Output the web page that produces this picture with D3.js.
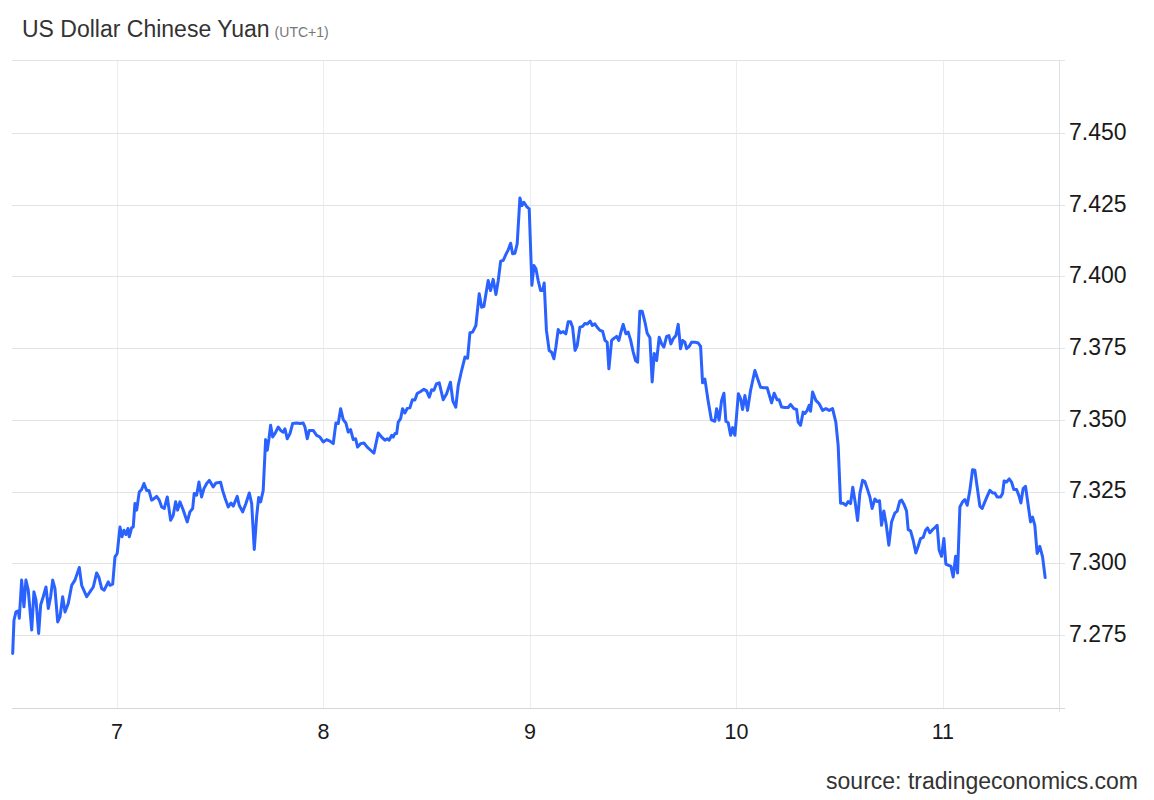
<!DOCTYPE html>
<html>
<head>
<meta charset="utf-8">
<script src="https://cdn.jsdelivr.net/npm/d3@7"></script>
<style>
  html, body { margin: 0; padding: 0; background: #fff; }
  svg { display: block; font-family: "Liberation Sans", Arial, sans-serif; }
</style>
</head>
<body>
<svg id="chart" width="1154" height="800"></svg>
<script>
// ---- data (hours since day 6 00:00, UTC+1) ----
const title = "US Dollar Chinese Yuan";
const subtitle = "(UTC+1)";
const source = "source: tradingeconomics.com";
const dayTicks = [7, 8, 9, 10, 11];
const yTicks = [7.275, 7.300, 7.325, 7.350, 7.375, 7.400, 7.425, 7.450];

const hours = [11.88,12.03,12.26,12.53,12.65,12.92,13.19,13.42,13.69,14.09,
14.35,14.59,14.90,15.13,15.43,15.75,16.02,16.29,16.53,16.79,
17.11,17.38,17.69,17.96,18.34,18.74,19.12,19.62,19.90,20.48,
20.86,21.25,21.64,21.91,22.22,22.52,22.99,23.19,23.50,23.77,
24.03,24.35,24.58,24.81,25.05,25.28,25.43,25.71,25.89,26.09,
26.29,26.59,26.87,27.14,27.45,27.72,28.03,28.30,28.61,28.92,
29.20,29.50,29.85,30.24,30.54,30.82,31.05,31.32,31.71,32.17,
32.48,32.80,32.98,33.26,33.53,33.84,34.11,34.43,34.73,35.19,
35.51,36.05,36.28,36.59,36.94,37.25,37.52,37.98,38.21,38.61,
38.99,39.38,39.66,39.96,40.24,40.47,40.70,41.00,41.28,41.47,
41.67,41.86,42.10,42.36,42.75,43.03,43.33,43.53,43.79,44.11,
44.42,44.89,45.27,45.65,45.85,46.12,46.35,46.81,47.21,47.59,
47.98,48.37,48.76,49.14,49.45,49.72,50.00,50.30,50.61,50.88,
51.16,51.46,51.74,51.97,52.32,52.71,53.09,53.49,53.87,54.37,
54.76,55.15,55.42,55.65,55.93,56.11,56.31,56.51,56.69,56.97,
57.20,57.47,57.74,58.05,58.34,58.63,58.90,59.30,59.68,59.99,
60.30,60.58,60.84,61.13,61.46,61.92,62.32,62.76,63.05,63.38,
63.67,64.06,64.45,64.76,65.03,65.34,65.72,66.11,66.39,66.65,
66.89,67.15,67.43,67.73,68.05,68.32,68.60,68.90,69.21,69.48,
69.76,69.99,70.26,70.52,70.84,71.07,71.30,71.62,71.92,72.23,
72.47,72.70,72.96,73.24,73.48,73.66,73.92,74.24,74.52,74.79,
75.02,75.29,75.57,75.87,76.18,76.45,76.73,76.96,77.25,77.50,
77.81,78.13,78.39,78.66,79.01,79.26,79.55,79.82,80.14,80.45,
80.72,80.98,81.18,81.50,81.80,82.08,82.34,82.58,82.84,83.16,
83.42,83.70,84.01,84.28,84.52,84.78,85.05,85.37,85.63,85.95,
86.21,86.45,86.73,87.03,87.31,87.57,87.89,88.16,88.39,88.66,
88.97,89.24,89.51,89.75,90.01,90.21,90.51,90.79,91.18,91.56,
91.84,92.07,92.34,92.69,93.09,93.50,93.70,93.99,94.28,94.55,
94.78,95.05,95.33,95.56,95.83,96.23,96.49,96.72,96.99,97.30,
97.65,98.15,98.46,98.81,99.20,99.58,100.09,100.39,100.74,100.97,
101.25,101.64,102.02,102.30,102.68,103.00,103.18,103.46,103.76,103.96,
104.23,104.46,104.62,104.86,105.24,105.62,106.02,106.40,106.79,107.18,
107.56,107.83,108.11,108.41,108.73,108.99,109.27,109.53,109.80,110.09,
110.35,110.67,110.93,111.20,111.52,111.78,112.10,112.36,112.64,112.87,
113.14,113.41,113.72,114.04,114.42,114.69,115.00,115.20,115.47,115.78,
115.97,116.25,116.55,116.86,117.13,117.41,117.71,117.99,118.22,118.49,
118.80,119.07,119.34,119.57,119.85,120.12,120.35,120.62,120.93,121.20,
121.48,121.71,121.98,122.29,122.56,122.83,123.14,123.45,123.72,123.99,
124.30,124.57,124.88,125.15,125.46,125.78,126.04,126.31,126.71,126.94,
127.12,127.40,127.71,127.98,128.25,128.57,128.87,129.07,129.33,129.61,
129.92,130.19,130.43,130.69,130.96,131.27,131.59,131.89];

const rates = [7.2685,7.2801,7.2830,7.2834,7.2808,7.2941,7.2848,7.2941,7.2906,7.2767,
7.2900,7.2871,7.2755,7.2854,7.2883,7.2917,7.2842,7.2883,7.2941,7.2912,
7.2795,7.2813,7.2883,7.2830,7.2860,7.2923,7.2941,7.2985,7.2923,7.2883,
7.2900,7.2917,7.2966,7.2950,7.2912,7.2906,7.2935,7.2923,7.2927,7.3022,
7.3034,7.3126,7.3092,7.3115,7.3100,7.3121,7.3092,7.3124,7.3126,7.3208,
7.3185,7.3248,7.3257,7.3278,7.3254,7.3254,7.3220,7.3225,7.3233,7.3220,
7.3196,7.3191,7.3231,7.3150,7.3167,7.3214,7.3185,7.3214,7.3185,7.3144,
7.3179,7.3191,7.3243,7.3237,7.3283,7.3231,7.3260,7.3278,7.3289,7.3266,
7.3280,7.3282,7.3254,7.3225,7.3196,7.3210,7.3199,7.3233,7.3202,7.3179,
7.3208,7.3245,7.3208,7.3048,7.3164,7.3229,7.3214,7.3254,7.3431,7.3394,
7.3434,7.3481,7.3440,7.3452,7.3475,7.3463,7.3457,7.3469,7.3434,7.3452,
7.3487,7.3489,7.3487,7.3489,7.3475,7.3434,7.3463,7.3463,7.3446,7.3440,
7.3423,7.3431,7.3426,7.3417,7.3489,7.3487,7.3539,7.3501,7.3489,7.3457,
7.3466,7.3431,7.3434,7.3405,7.3417,7.3419,7.3405,7.3394,7.3384,7.3454,
7.3440,7.3429,7.3434,7.3429,7.3446,7.3440,7.3452,7.3452,7.3492,7.3504,
7.3539,7.3524,7.3540,7.3542,7.3570,7.3569,7.3592,7.3599,7.3607,7.3601,
7.3579,7.3605,7.3603,7.3625,7.3629,7.3570,7.3591,7.3631,7.3565,7.3544,
7.3620,7.3672,7.3719,7.3715,7.3804,7.3806,7.3829,7.3940,7.3893,7.3895,
7.3940,7.3986,7.3951,7.3990,7.3937,7.3986,7.4053,7.4056,7.4077,7.4093,
7.4116,7.4079,7.4081,7.4114,7.4274,7.4247,7.4259,7.4244,7.4236,7.3969,
7.4038,7.4027,7.3986,7.3951,7.3951,7.3977,7.3812,7.3742,7.3736,7.3713,
7.3754,7.3815,7.3803,7.3808,7.3800,7.3842,7.3842,7.3823,7.3742,7.3759,
7.3823,7.3826,7.3836,7.3834,7.3844,7.3829,7.3835,7.3823,7.3812,7.3809,
7.3777,7.3771,7.3678,7.3777,7.3785,7.3791,7.3777,7.3806,7.3833,7.3800,
7.3806,7.3779,7.3736,7.3707,7.3701,7.3879,7.3879,7.3841,7.3802,7.3786,
7.3632,7.3731,7.3707,7.3788,7.3765,7.3754,7.3791,7.3794,7.3765,7.3783,
7.3794,7.3833,7.3748,7.3777,7.3771,7.3748,7.3756,7.3771,7.3771,7.3768,
7.3756,7.3629,7.3642,7.3571,7.3500,7.3495,7.3539,7.3499,7.3568,7.3593,
7.3495,7.3490,7.3446,7.3473,7.3446,7.3591,7.3574,7.3536,7.3585,7.3533,
7.3603,7.3672,7.3644,7.3614,7.3612,7.3612,7.3559,7.3593,7.3570,7.3570,
7.3545,7.3543,7.3543,7.3554,7.3539,7.3536,7.3492,7.3481,7.3527,7.3522,
7.3533,7.3551,7.3530,7.3597,7.3568,7.3556,7.3533,7.3539,7.3533,7.3539,
7.3492,7.3411,7.3209,7.3209,7.3202,7.3215,7.3208,7.3265,7.3214,7.3149,
7.3243,7.3289,7.3285,7.3261,7.3231,7.3191,7.3224,7.3215,7.3218,7.3132,
7.3182,7.3136,7.3063,7.3144,7.3175,7.3182,7.3217,7.3220,7.3206,7.3182,
7.3117,7.3113,7.3080,7.3036,7.3059,7.3086,7.3090,7.3115,7.3123,7.3106,
7.3117,7.3124,7.3132,7.3045,7.3024,7.3086,7.2997,7.2993,7.2990,7.2952,
7.3024,7.2966,7.3196,7.3214,7.3222,7.3202,7.3254,7.3326,7.3324,7.3266,
7.3199,7.3191,7.3214,7.3233,7.3254,7.3245,7.3245,7.3231,7.3231,7.3243,
7.3287,7.3283,7.3294,7.3283,7.3257,7.3257,7.3233,7.3210,7.3260,7.3268,
7.3202,7.3144,7.3161,7.3132,7.3034,7.3059,7.3022,7.2950];

// ---- layout ----
const W = 1154, H = 800;
const plotLeft = 12, plotRight = 1059, plotTop = 60, plotBottom = 708;

const svg = d3.select("#chart");
svg.append("rect").attr("width", W).attr("height", H).attr("fill", "#fff");

const x = d3.scaleLinear().domain([11.8, 133.5]).range([plotLeft, plotRight]);
const y = d3.scaleLinear().domain([7.2495, 7.4755]).range([plotBottom, plotTop]);

// vertical grid (day boundaries)
svg.append("g").selectAll("line").data(dayTicks).join("line")
  .attr("x1", d => Math.round(x((d - 6) * 24)) + 0.5)
  .attr("x2", d => Math.round(x((d - 6) * 24)) + 0.5)
  .attr("y1", plotTop).attr("y2", plotBottom)
  .attr("stroke", "#e9eef5").attr("stroke-width", 1);

// horizontal grid
svg.append("g").selectAll("line").data(yTicks).join("line")
  .attr("x1", plotLeft).attr("x2", plotRight + 6)
  .attr("y1", d => Math.round(y(d)) + 0.5)
  .attr("y2", d => Math.round(y(d)) + 0.5)
  .attr("stroke", "#e3e3e3").attr("stroke-width", 1);

// top border and bottom axis
svg.append("line").attr("x1", plotLeft).attr("x2", plotRight + 6)
  .attr("y1", plotTop + 0.5).attr("y2", plotTop + 0.5)
  .attr("stroke", "#e3e3e3");
svg.append("line").attr("x1", plotLeft).attr("x2", plotRight + 6)
  .attr("y1", plotBottom + 0.5).attr("y2", plotBottom + 0.5)
  .attr("stroke", "#d6d6d6");
// right axis line
svg.append("line").attr("x1", plotRight + 0.5).attr("x2", plotRight + 0.5)
  .attr("y1", plotTop).attr("y2", plotBottom + 4)
  .attr("stroke", "#e0e0e0");

// y labels (right)
svg.append("g").selectAll("text").data(yTicks).join("text")
  .attr("x", plotRight + 10)
  .attr("y", d => y(d))
  .attr("dy", "0.30em")
  .attr("font-size", 23)
  .attr("fill", "#1a1a1a")
  .text(d => d3.format(".3f")(d));

// x labels
svg.append("g").selectAll("text").data(dayTicks).join("text")
  .attr("x", d => x((d - 6) * 24))
  .attr("y", 738.5)
  .attr("text-anchor", "middle")
  .attr("font-size", 21.5)
  .attr("fill", "#1a1a1a")
  .text(d => d);

// line
const line = d3.line()
  .x((d, i) => x(hours[i]))
  .y(d => y(d));
svg.append("path")
  .datum(rates)
  .attr("d", line)
  .attr("fill", "none")
  .attr("stroke", "#2962ff")
  .attr("stroke-width", 3)
  .attr("stroke-linejoin", "round")
  .attr("stroke-linecap", "round");

// title
const t = svg.append("text").attr("x", 22).attr("y", 37)
  .attr("fill", "#333");
t.append("tspan").attr("font-size", 23).text(title);
t.append("tspan").attr("font-size", 14).attr("fill", "#777").attr("dx", 5).text(subtitle);

// source
svg.append("text").attr("x", 1138).attr("y", 789)
  .attr("text-anchor", "end").attr("font-size", 23).attr("fill", "#333")
  .text(source);
</script>
</body>
</html>
